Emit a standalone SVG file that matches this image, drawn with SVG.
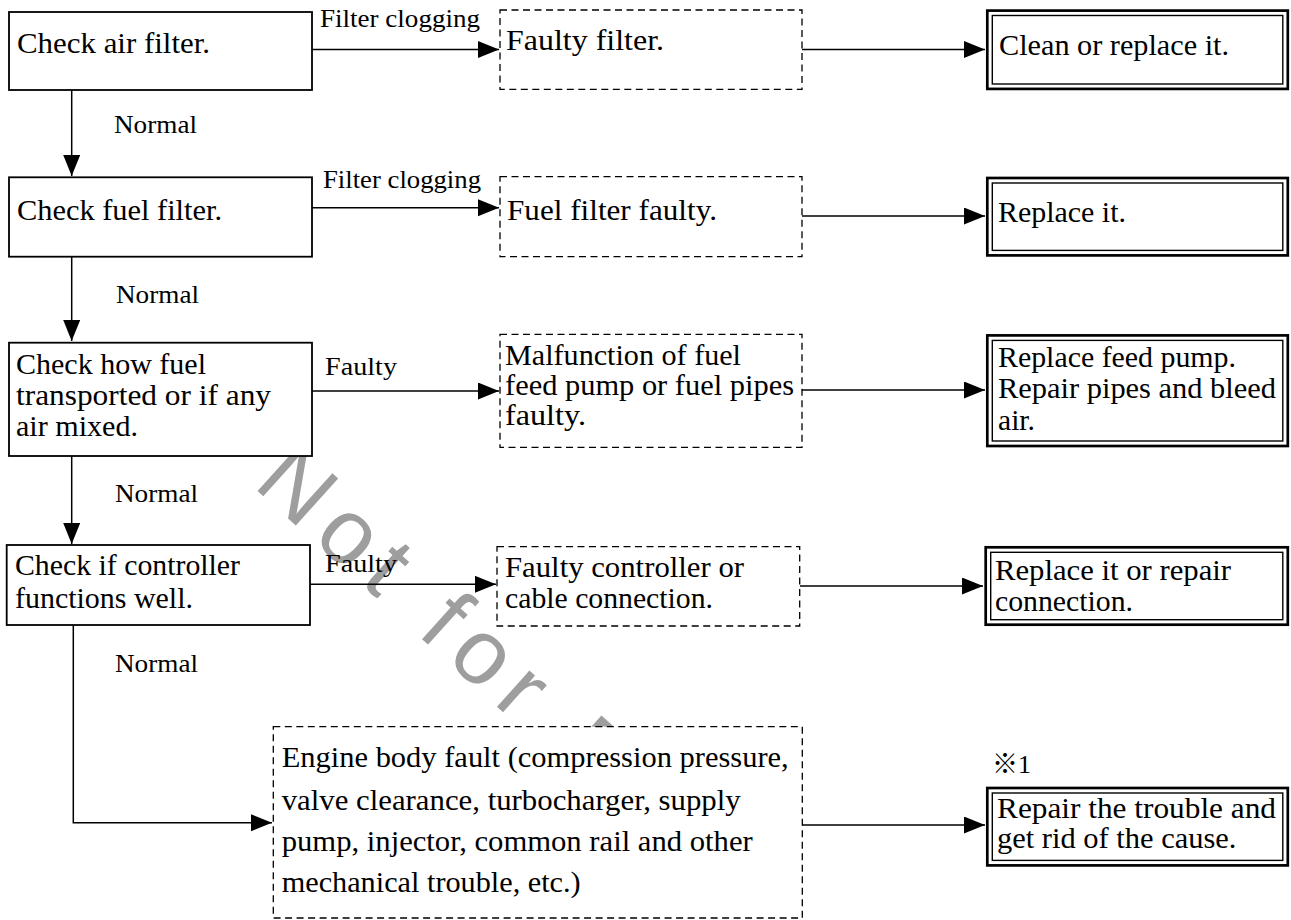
<svg xmlns="http://www.w3.org/2000/svg" width="1291" height="920" viewBox="0 0 1291 920">
<style>
text{font-family:"Liberation Serif","Times New Roman",serif;fill:#000}
.t{font-size:29px}
.l{font-size:26px}
.solid{fill:#fff;stroke:#000;stroke-width:1.8}
.dash{fill:#fff;stroke:#000;stroke-width:1.3;stroke-dasharray:7 4.5}
.outer{fill:#fff;stroke:#000;stroke-width:2.7}
.inner{fill:none;stroke:#000;stroke-width:1.4}
.c{fill:none;stroke:#000;stroke-width:1.5}
.wm{font-family:"Liberation Sans",Arial,sans-serif;font-size:92px;fill:#9e9e9e}
</style>
<defs>
<marker id="ah" markerUnits="userSpaceOnUse" markerWidth="22" markerHeight="18" refX="21" refY="8.5" orient="auto">
<path d="M0,0 L21,8.5 L0,17 z" fill="#000"/>
</marker>
</defs>
<rect width="1291" height="920" fill="#fff"/>
<text class="wm" transform="translate(252,486) rotate(42)" letter-spacing="13">Not for R</text>

<g id="connectors">
<line class="c" x1="312" y1="49.5" x2="499" y2="49.5" marker-end="url(#ah)"/>
<line class="c" x1="802" y1="49.5" x2="985" y2="49.5" marker-end="url(#ah)"/>
<line class="c" x1="71.7" y1="90" x2="71.7" y2="176" marker-end="url(#ah)"/>
<line class="c" x1="312" y1="207.7" x2="499" y2="207.7" marker-end="url(#ah)"/>
<line class="c" x1="802" y1="216" x2="985" y2="216" marker-end="url(#ah)"/>
<line class="c" x1="71.7" y1="256.7" x2="71.7" y2="341" marker-end="url(#ah)"/>
<line class="c" x1="312" y1="391" x2="499" y2="391" marker-end="url(#ah)"/>
<line class="c" x1="802" y1="390" x2="985" y2="390" marker-end="url(#ah)"/>
<line class="c" x1="71.7" y1="456" x2="71.7" y2="544" marker-end="url(#ah)"/>
<line class="c" x1="310" y1="584.3" x2="496" y2="584.3" marker-end="url(#ah)"/>
<line class="c" x1="800" y1="586" x2="983" y2="586" marker-end="url(#ah)"/>
<polyline class="c" points="73.3,625 73.3,822.7 272,822.7" marker-end="url(#ah)"/>
<line class="c" x1="802" y1="825" x2="985" y2="825" marker-end="url(#ah)"/>
<text class="l" x="320" y="27" textLength="160" lengthAdjust="spacingAndGlyphs">Filter clogging</text>
<text class="l" x="114" y="133" textLength="83" lengthAdjust="spacingAndGlyphs">Normal</text>
<text class="l" x="323" y="188.3" textLength="158" lengthAdjust="spacingAndGlyphs">Filter clogging</text>
<text class="l" x="116" y="303.3" textLength="83" lengthAdjust="spacingAndGlyphs">Normal</text>
<text class="l" x="325" y="375" textLength="72" lengthAdjust="spacingAndGlyphs">Faulty</text>
<text class="l" x="115" y="501.7" textLength="83" lengthAdjust="spacingAndGlyphs">Normal</text>
<text class="l" x="325" y="571.7" textLength="72" lengthAdjust="spacingAndGlyphs">Faulty</text>
<text class="l" x="115" y="671.7" textLength="83" lengthAdjust="spacingAndGlyphs">Normal</text>
</g>

<g id="check-air-filter">
<rect class="solid" x="9" y="12" width="303" height="78"/>
<text class="t" x="17" y="53.3" textLength="193" lengthAdjust="spacingAndGlyphs">Check air filter.</text>
</g>
<g id="faulty-filter">
<rect class="dash" x="500" y="10" width="302" height="79.3"/>
<text class="t" x="506" y="50" textLength="158" lengthAdjust="spacingAndGlyphs">Faulty filter.</text>
</g>
<g id="clean-or-replace">
<rect class="outer" x="987.3" y="10.6" width="300.5" height="78.3"/>
<rect class="inner" x="992.3" y="15.5" width="290.5" height="68.5"/>
<text class="t" x="999" y="55" textLength="230" lengthAdjust="spacingAndGlyphs">Clean or replace it.</text>
</g>

<g id="check-fuel-filter">
<rect class="solid" x="9" y="177.3" width="303" height="79.4"/>
<text class="t" x="17" y="220" textLength="205" lengthAdjust="spacingAndGlyphs">Check fuel filter.</text>
</g>
<g id="fuel-filter-faulty">
<rect class="dash" x="500" y="176.7" width="302" height="80"/>
<text class="t" x="507" y="220" textLength="210" lengthAdjust="spacingAndGlyphs">Fuel filter faulty.</text>
</g>
<g id="replace-it">
<rect class="outer" x="987.3" y="178" width="300.5" height="77.4"/>
<rect class="inner" x="992.3" y="183" width="290.5" height="67.4"/>
<text class="t" x="998" y="221.7" textLength="128" lengthAdjust="spacingAndGlyphs">Replace it.</text>
</g>

<g id="check-fuel-transport">
<rect class="solid" x="9" y="342.7" width="303" height="113.3"/>
<text class="t" x="16" y="373.5" textLength="190" lengthAdjust="spacingAndGlyphs">Check how fuel</text>
<text class="t" x="16" y="405" textLength="255" lengthAdjust="spacingAndGlyphs">transported or if any</text>
<text class="t" x="16" y="436" textLength="122" lengthAdjust="spacingAndGlyphs">air mixed.</text>
</g>
<g id="feed-pump-malfunction">
<rect class="dash" x="500" y="334.3" width="302" height="113"/>
<text class="t" x="505" y="365" textLength="236" lengthAdjust="spacingAndGlyphs">Malfunction of fuel</text>
<text class="t" x="505" y="395" textLength="289" lengthAdjust="spacingAndGlyphs">feed pump or fuel pipes</text>
<text class="t" x="505" y="425" textLength="81" lengthAdjust="spacingAndGlyphs">faulty.</text>
</g>
<g id="replace-feed-pump">
<rect class="outer" x="987.3" y="335.4" width="300.5" height="110.6"/>
<rect class="inner" x="992.3" y="340.4" width="290.5" height="100.6"/>
<text class="t" x="998" y="366.7" textLength="238" lengthAdjust="spacingAndGlyphs">Replace feed pump.</text>
<text class="t" x="998" y="398.3" textLength="278" lengthAdjust="spacingAndGlyphs">Repair pipes and bleed</text>
<text class="t" x="998" y="430" textLength="37" lengthAdjust="spacingAndGlyphs">air.</text>
</g>

<g id="check-controller">
<rect class="solid" x="6.7" y="545" width="303.3" height="80"/>
<text class="t" x="15" y="575" textLength="225" lengthAdjust="spacingAndGlyphs">Check if controller</text>
<text class="t" x="15" y="608.3" textLength="178" lengthAdjust="spacingAndGlyphs">functions well.</text>
</g>
<g id="faulty-controller">
<rect class="dash" x="497" y="546.7" width="302.7" height="79.3"/>
<text class="t" x="505" y="576.7" textLength="239" lengthAdjust="spacingAndGlyphs">Faulty controller or</text>
<text class="t" x="505" y="608.3" textLength="208" lengthAdjust="spacingAndGlyphs">cable connection.</text>
</g>
<g id="replace-or-repair">
<rect class="outer" x="985.7" y="547.3" width="302.1" height="77.4"/>
<rect class="inner" x="990.7" y="552.3" width="292.1" height="67.4"/>
<text class="t" x="995" y="580" textLength="236" lengthAdjust="spacingAndGlyphs">Replace it or repair</text>
<text class="t" x="995" y="610.7" textLength="138" lengthAdjust="spacingAndGlyphs">connection.</text>
</g>

<g id="engine-body-fault">
<rect class="dash" x="273.3" y="726.7" width="529" height="191.3"/>
<text class="t" x="281.7" y="767" textLength="507" lengthAdjust="spacingAndGlyphs">Engine body fault (compression pressure,</text>
<text class="t" x="281.7" y="809.5" textLength="459" lengthAdjust="spacingAndGlyphs">valve clearance, turbocharger, supply</text>
<text class="t" x="281.7" y="851" textLength="471" lengthAdjust="spacingAndGlyphs">pump, injector, common rail and other</text>
<text class="t" x="281.7" y="892" textLength="299" lengthAdjust="spacingAndGlyphs">mechanical trouble, etc.)</text>
</g>
<g id="repair-trouble">
<text class="l" style="font-family:'Liberation Serif','Noto Sans CJK JP',serif" x="992" y="773" textLength="39" lengthAdjust="spacingAndGlyphs">※1</text>
<rect class="outer" x="987.3" y="788" width="300.5" height="77.4"/>
<rect class="inner" x="992.3" y="793" width="290.5" height="67.4"/>
<text class="t" x="997" y="818.3" textLength="279" lengthAdjust="spacingAndGlyphs">Repair the trouble and</text>
<text class="t" x="997" y="848.3" textLength="239.5" lengthAdjust="spacingAndGlyphs">get rid of the cause.</text>
</g>
</svg>
